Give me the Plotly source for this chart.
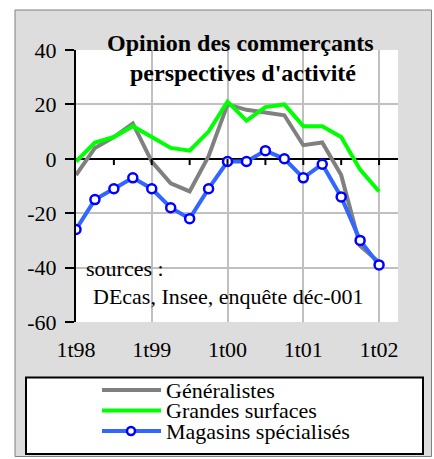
import plotly.graph_objects as go

# ---------------- data ----------------
quarters = ["1t98", "2t98", "3t98", "4t98",
            "1t99", "2t99", "3t99", "4t99",
            "1t00", "2t00", "3t00", "4t00",
            "1t01", "2t01", "3t01", "4t01",
            "1t02"]
generalistes = [-6, 4, 8, 13, -1, -9, -12, 1, 20, 18, 17, 16, 5, 6, -6, -32, -38]
grandes_surfaces = [-1, 6, 8, 12, 8, 4, 3, 10, 21, 14, 19, 20, 12, 12, 8, -4, -12]
magasins_specialises = [-26, -15, -11, -7, -11, -18, -22, -11, -1, -1, 3, 0, -7, -2, -14, -30, -39]
tick_labels = ["1t98", "1t99", "1t00", "1t01", "1t02"]
y_ticks = [-60, -40, -20, 0, 20, 40]
y_tick_labels = ["-60", "-40", "-20", "0", "20", "40"]
series_names = ["Généralistes", "Grandes surfaces", "Magasins spécialisés"]
title_lines = ["Opinion des commerçants", "perspectives d'activité"]
source_lines = ["sources :", "DEcas, Insee, enquête déc-001"]

# ---------------- layout geometry ----------------
W, H = 434, 459
L, R, T, B = 76, 36, 50, 137
PW, PH = W - L - R, H - T - B


def fx(px):
    return (px - L) / PW


def fy(py):
    return (H - B - py) / PH


FONT = "Liberation Serif, Times New Roman, serif"
GRAY, GREEN, BLUE_LINE, BLUE_MK = "#808080", "#00FF00", "#3366FF", "#0000FF"

fig = go.Figure()
fig.add_trace(go.Scatter(x=quarters, y=generalistes, mode="lines", name=series_names[0],
                         line=dict(color=GRAY, width=4)))
fig.add_trace(go.Scatter(x=quarters, y=grandes_surfaces, mode="lines", name=series_names[1],
                         line=dict(color=GREEN, width=4)))
fig.add_trace(go.Scatter(x=quarters, y=magasins_specialises, mode="lines+markers", name=series_names[2],
                         line=dict(color=BLUE_LINE, width=4),
                         marker=dict(symbol="circle", size=9, color="white",
                                     line=dict(color=BLUE_MK, width=2.5))))

shapes = []
# outer gray frame
shapes.append(dict(type="rect", xref="paper", yref="paper", layer="below",
                   x0=fx(15), x1=fx(431.5), y0=fy(456.5), y1=fy(10),
                   fillcolor="#DDDDDD", line=dict(color="#808080", width=1)))
# white plot area
shapes.append(dict(type="rect", xref="paper", yref="paper", layer="below",
                   x0=0, x1=1, y0=0, y1=1, fillcolor="white", line=dict(width=0)))
# tick marks on the zero line (every 2 quarters)
for i in range(2, len(quarters), 2):
    shapes.append(dict(type="line", xref="x", yref="y", x0=quarters[i], x1=quarters[i],
                       y0=0, y1=-2.3, line=dict(color="black", width=2)))
# legend box
shapes.append(dict(type="rect", xref="paper", yref="paper",
                   x0=fx(26), x1=fx(423), y0=fy(454), y1=fy(377.5),
                   fillcolor="white", line=dict(color="black", width=2)))
leg_rows = [390, 410.5, 431]
leg_colors = [GRAY, GREEN, BLUE_LINE]
for yy, c in zip(leg_rows, leg_colors):
    shapes.append(dict(type="line", xref="paper", yref="paper",
                       x0=fx(102), x1=fx(161), y0=fy(yy), y1=fy(yy),
                       line=dict(color=c, width=4)))
# legend marker for blue series
r = 4
shapes.append(dict(type="circle", xref="paper", yref="paper",
                   x0=fx(131 - r), x1=fx(131 + r), y0=fy(leg_rows[2] + r), y1=fy(leg_rows[2] - r),
                   fillcolor="white", line=dict(color=BLUE_MK, width=2.5)))

annotations = []
annotations.append(dict(text="<b>" + title_lines[0] + "</b>", xref="paper", yref="paper",
                        x=fx(240), y=fy(43), xanchor="center", yanchor="middle", showarrow=False,
                        font=dict(family=FONT, size=24, color="black")))
annotations.append(dict(text="<b>" + title_lines[1] + "</b>", xref="paper", yref="paper",
                        x=fx(243), y=fy(73), xanchor="center", yanchor="middle", showarrow=False,
                        font=dict(family=FONT, size=24, color="black")))
annotations.append(dict(text=source_lines[0], xref="paper", yref="paper",
                        x=fx(84), y=fy(268), xanchor="left", yanchor="middle", showarrow=False,
                        font=dict(family=FONT, size=22, color="black")))
annotations.append(dict(text=source_lines[1], xref="paper", yref="paper",
                        x=fx(91), y=fy(296), xanchor="left", yanchor="middle", showarrow=False,
                        font=dict(family=FONT, size=22, color="black")))
for yy, name in zip(leg_rows, series_names):
    annotations.append(dict(text=name, xref="paper", yref="paper",
                            x=fx(164), y=fy(yy), xanchor="left", yanchor="middle", showarrow=False,
                            font=dict(family=FONT, size=22, color="black")))

fig.update_layout(
    width=W, height=H,
    margin=dict(l=L, r=R, t=T, b=B, pad=0),
    paper_bgcolor="white",
    plot_bgcolor="rgba(0,0,0,0)",
    showlegend=False,
    font=dict(family=FONT, size=22, color="black"),
    shapes=shapes,
    annotations=annotations,
    xaxis=dict(type="category", categoryorder="array", categoryarray=quarters,
               range=[0, 17], tickmode="array", tickvals=tick_labels, ticktext=tick_labels,
               showgrid=True, gridcolor="#C0C0C0", gridwidth=2,
               showline=False, ticks="", zeroline=False,
               tickfont=dict(family=FONT, size=22, color="black"),
               ticklabelstandoff=12, fixedrange=True),
    yaxis=dict(range=[-60, 40], tickmode="array", tickvals=y_ticks, ticktext=y_tick_labels,
               showgrid=True, gridcolor="#C0C0C0", gridwidth=2,
               zeroline=True, zerolinecolor="black", zerolinewidth=2,
               showline=True, linecolor="black", linewidth=2,
               ticks="outside", ticklen=9, tickwidth=2, tickcolor="black",
               tickfont=dict(family=FONT, size=22, color="black"),
               ticklabelstandoff=4, fixedrange=True),
)

fig.write_html("out.html", config={"displayModeBar": False},
               post_script="document.body.style.margin='0';document.body.style.overflow='hidden';")
